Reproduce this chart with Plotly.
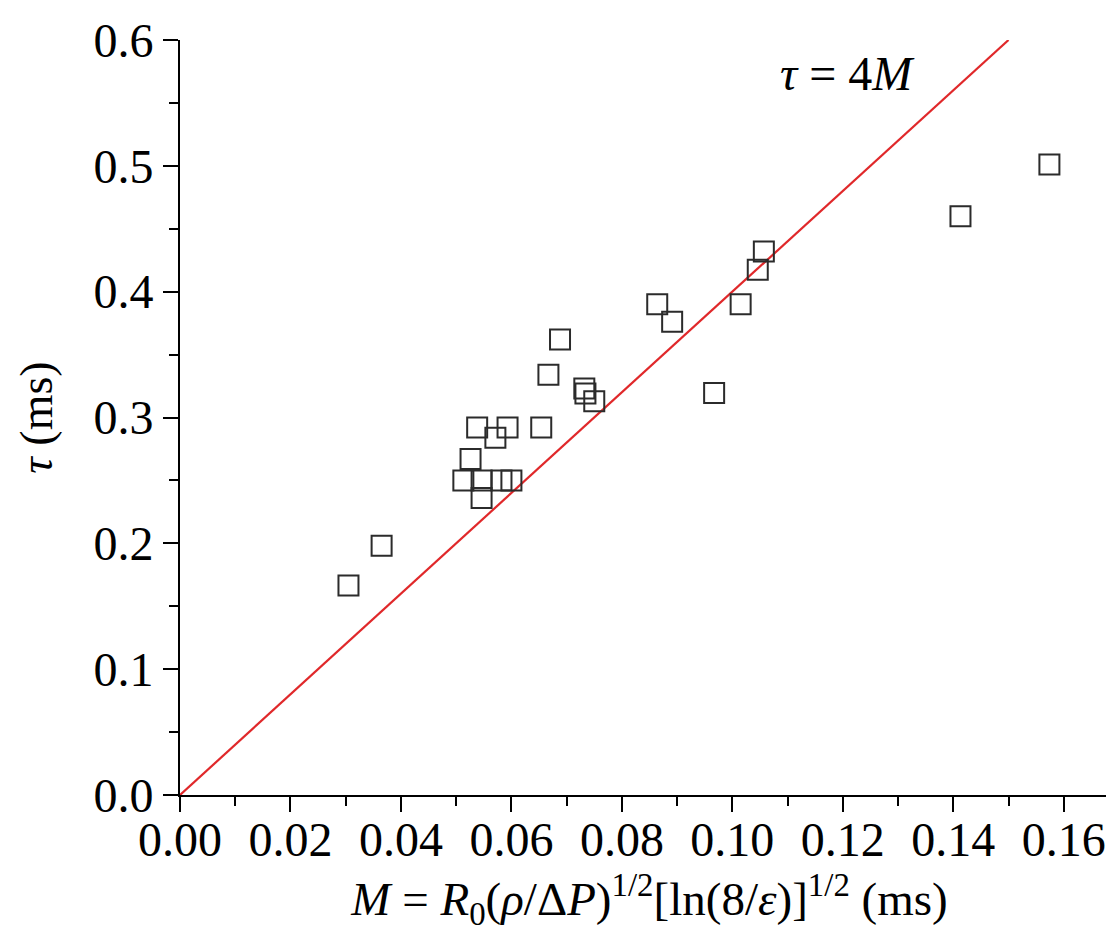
import plotly.graph_objects as go

# measured points: M (ms) and tau (ms)
m_vals = [0.0305, 0.0365, 0.0513, 0.0526, 0.0538, 0.0546, 0.0546, 0.0571, 0.0582,
          0.0600, 0.0593, 0.0654, 0.0667, 0.0688, 0.0732, 0.0734, 0.0750, 0.0864,
          0.0891, 0.0967, 0.1015, 0.1046, 0.1057, 0.1413, 0.1574]
tau_vals = [0.1665, 0.198, 0.250, 0.267, 0.292, 0.250, 0.236, 0.284, 0.250,
            0.250, 0.292, 0.292, 0.334, 0.362, 0.323, 0.319, 0.313, 0.390,
            0.376, 0.3195, 0.390, 0.4175, 0.432, 0.460, 0.501]

# fit line tau = 4M
line_m = [0.0, 0.15]
line_tau = [4 * m for m in line_m]

serif = "Liberation Serif, Times New Roman, serif"

fig = go.Figure()
fig.add_scatter(x=line_m, y=line_tau, mode="lines",
                line=dict(color="#e0282a", width=2.2), showlegend=False)
fig.add_scatter(x=m_vals, y=tau_vals, mode="markers",
                marker=dict(symbol="square-open", size=20, color="#2b2b2b",
                            line=dict(width=2, color="#2b2b2b")),
                showlegend=False)

fig.add_annotation(x=0.1209, y=0.573, xref="x", yref="y",
                   text="<i>τ</i> = 4<i>M</i>", showarrow=False,
                   font=dict(family=serif, size=48, color="black"))

fig.update_layout(
    width=1114, height=945,
    margin=dict(l=172, r=3, t=32, b=158),
    plot_bgcolor="white", paper_bgcolor="white",
    font=dict(family=serif, size=48, color="black"),
)
fig.update_xaxes(
    range=[0, 0.17], tickvals=[0, 0.02, 0.04, 0.06, 0.08, 0.10, 0.12, 0.14, 0.16],
    tickformat=".2f", ticks="outside", ticklen=15, tickwidth=2, tickcolor="black",
    ticklabelstandoff=-14,
    minor=dict(dtick=0.01, tick0=0, ticks="outside", ticklen=9, tickwidth=2, tickcolor="black"),
    showline=True, linecolor="black", linewidth=2, showgrid=False, zeroline=False,
    title=dict(text="<i>M</i> = <i>R</i><sub>0</sub>(<i>ρ</i>/Δ<i>P</i>)<sup>1/2</sup>[ln(8/<i>ε</i>)]<sup>1/2</sup> (ms)",
               font=dict(size=47), standoff=18),
)
fig.update_yaxes(
    range=[0, 0.6], dtick=0.1, tickformat=".1f", ticks="outside", ticklen=15,
    tickwidth=2, tickcolor="black",
    minor=dict(dtick=0.05, tick0=0, ticks="outside", ticklen=9, tickwidth=2, tickcolor="black"),
    showline=True, linecolor="black", linewidth=2, showgrid=False, zeroline=False,
    title=dict(text="<i>τ</i> (ms)", font=dict(size=46), standoff=26),
)

fig.write_html("out.html")
